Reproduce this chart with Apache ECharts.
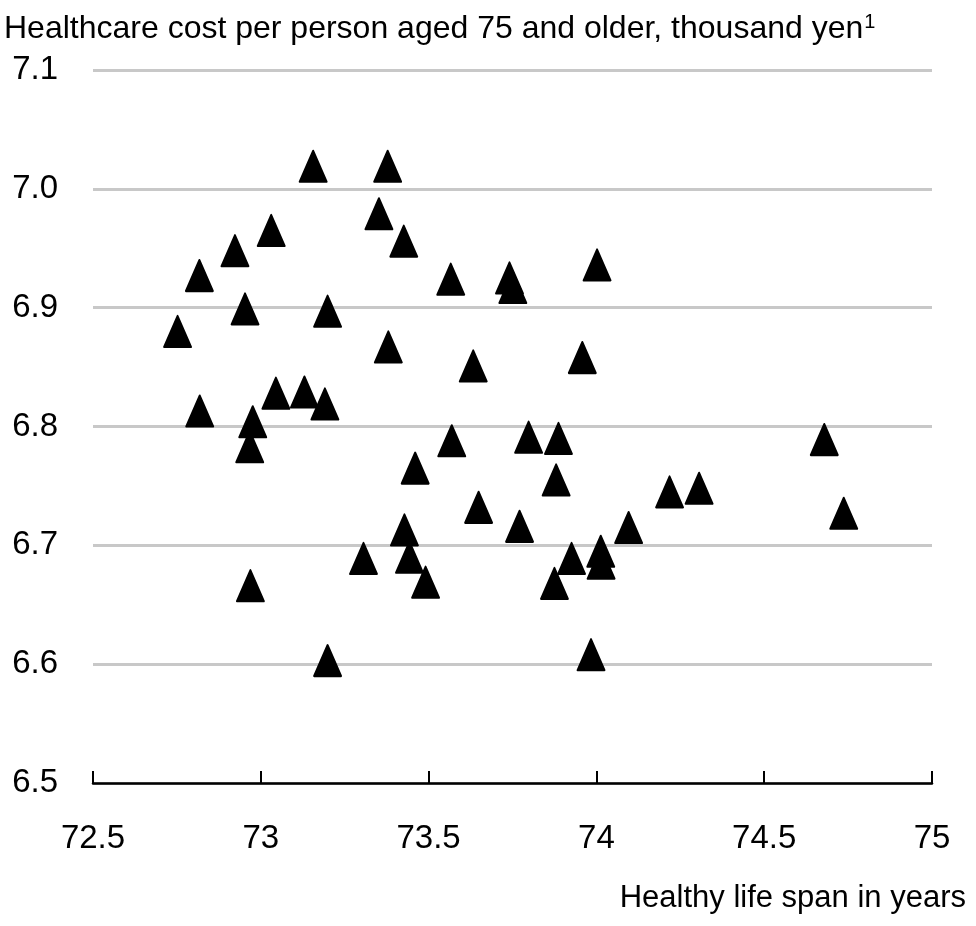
<!DOCTYPE html>
<html>
<head>
<meta charset="utf-8">
<script src="https://cdn.jsdelivr.net/npm/echarts@6/dist/echarts.min.js"></script>
<style>
  html, body { margin: 0; padding: 0; background: #fff; }
  #chart { width: 976px; height: 926px; }
</style>
</head>
<body>
<div id="chart"></div>
<script>
  // healthy life span (years) per prefecture
  var lifeSpan = [
    72.752, 72.817, 72.818, 72.923, 72.953, 72.976, 72.967, 72.969, 73.031, 73.045,
    73.130, 73.156, 73.191, 73.199, 73.199, 73.306, 73.352, 73.378, 73.380, 73.426,
    73.428, 73.443, 73.460, 73.491, 73.566, 73.569, 73.633, 73.649, 73.741, 73.751,
    73.771, 73.798, 73.875, 73.880, 73.887, 73.926, 73.958, 73.984, 74.002, 74.013,
    74.014, 74.096, 74.218, 74.306, 74.679, 74.737
  ];
  // healthcare cost per person aged 75+ (same order as lifeSpan)
  var cost = [
    6.880, 6.927, 6.813, 6.948, 6.899, 6.804, 6.783, 6.666, 6.965, 6.828,
    6.829, 7.019, 6.819, 6.897, 6.603, 6.689, 6.979, 7.019, 6.867, 6.956,
    6.713, 6.690, 6.765, 6.669, 6.924, 6.788, 6.851, 6.732, 6.925, 6.917,
    6.716, 6.791, 6.668, 6.755, 6.790, 6.689, 6.858, 6.608, 6.936, 6.695,
    6.685, 6.715, 6.745, 6.748, 6.789, 6.727
  ];
  var yTitle = 'Healthcare cost per person aged 75 and older, thousand yen';
  var yTitleNote = '1';
  var xTitle = 'Healthy life span in years';

  var points = [];
  for (var i = 0; i < lifeSpan.length; i++) {
    points.push([lifeSpan[i], cost[i]]);
  }

  var font = '"Liberation Sans Narrow", "Liberation Sans", Arial, sans-serif';

  var option = {
    animation: false,
    backgroundColor: '#ffffff',
    textStyle: { fontFamily: font, color: '#000' },
    title: {
      left: 4,
      top: 12,
      padding: 0,
      text: '{a|' + yTitle + '}{s|' + yTitleNote + '}',
      textStyle: {
        rich: {
          a: { fontFamily: font, fontSize: 32, fontWeight: 'normal', color: '#000', lineHeight: 35 },
          s: { fontFamily: font, fontSize: 20, fontWeight: 'normal', color: '#000', verticalAlign: 'top', lineHeight: 35, padding: [0, 0, 0, 1] }
        }
      }
    },
    grid: { left: 93, right: 44, top: 70, bottom: 143, containLabel: false },
    xAxis: {
      type: 'value',
      min: 72.5,
      max: 75,
      interval: 0.5,
      name: xTitle,
      nameLocation: 'end',
      nameGap: 34,
      nameTextStyle: {
        fontFamily: font, fontSize: 31, color: '#000',
        align: 'right', verticalAlign: 'top', padding: [100, 0, 0, 0]
      },
      axisLine: { show: true, lineStyle: { color: '#000', width: 2.5 } },
      axisTick: { show: true, inside: true, length: 12, lineStyle: { color: '#000', width: 2 } },
      axisLabel: { fontFamily: font, fontSize: 33, color: '#000', margin: 39 },
      splitLine: { show: false }
    },
    yAxis: {
      type: 'value',
      min: 6.5,
      max: 7.1,
      interval: 0.1,
      axisLine: { show: false },
      axisTick: { show: false },
      axisLabel: {
        fontFamily: font, fontSize: 33, color: '#000', margin: 35,
        formatter: function (v) { return v.toFixed(1); }
      },
      splitLine: { show: true, lineStyle: { color: '#c8c8c8', width: 3 } }
    },
    series: [
      {
        type: 'scatter',
        data: points,
        symbol: 'triangle',
        symbolSize: [27, 31],
        itemStyle: { color: '#000', opacity: 1, borderColor: '#000', borderWidth: 2, borderJoin: 'round' }
      }
    ]
  };

  var myChart = echarts.init(document.getElementById('chart'));
  myChart.setOption(option);
</script>
</body>
</html>
